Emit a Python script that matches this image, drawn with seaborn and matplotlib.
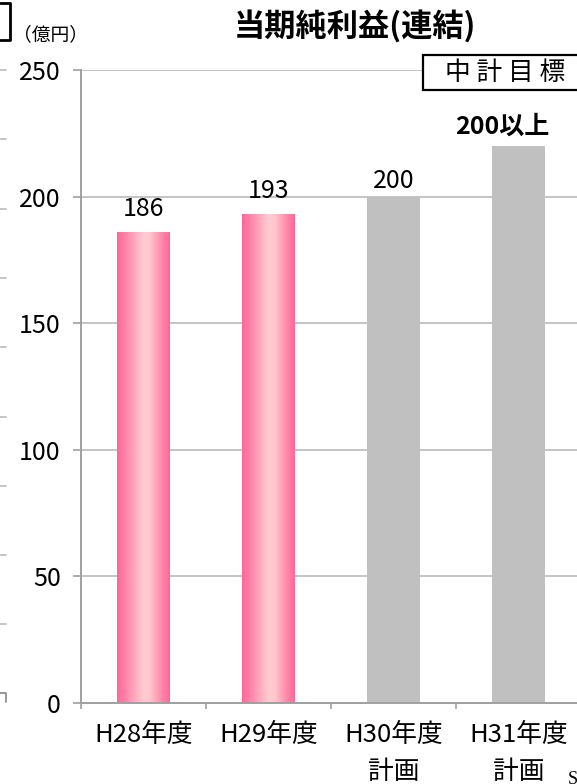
import numpy as np
import pandas as pd
import matplotlib
matplotlib.use("Agg")
import matplotlib.pyplot as plt
from matplotlib.colors import LinearSegmentedColormap
from matplotlib.patches import Rectangle
from matplotlib.lines import Line2D
import seaborn as sns

# ---- data -------------------------------------------------------------
categories = ["H28年度", "H29年度", "H30年度\n計画", "H31年度\n計画"]
net_income = [186, 193, 200, 220]
value_labels = ["186", "193", "200", "200以上"]
is_plan = [False, False, True, True]
y_ticks = [0, 50, 100, 150, 200, 250]

# ---- style ------------------------------------------------------------
sns.set_theme(style="white")
plt.rcParams["font.family"] = ["Noto Sans CJK JP", "DejaVu Sans"]

W, H = 577, 784
fig = plt.figure(figsize=(W / 100, H / 100), dpi=100)
fig.patch.set_facecolor("white")

def fx(px):
    return px / W

def fy(px):
    return 1 - px / H

ax = fig.add_axes([fx(81), 81 / H, 500 / W, 633 / H])
ax.set_facecolor("white")

actual_color = "#FF6699"
plan_color = "#C0C0C0"

df = pd.DataFrame({"category": categories, "value": net_income})
palette = {c: (plan_color if p else actual_color) for c, p in zip(categories, is_plan)}
sns.barplot(data=df, x="category", y="value", hue="category", palette=palette,
            legend=False, width=0.42, saturation=1, edgecolor="none",
            linewidth=0, ax=ax, zorder=2)

# horizontal pink gradient on the actual-result bars
pink = LinearSegmentedColormap.from_list(
    "pinkbar",
    [(0.0, "#FF6699"), (0.18, "#FF88AA"), (0.5, "#FFCCD2"),
     (0.62, "#FFC6CC"), (0.85, "#FF88AA"), (1.0, "#FF6699")])
grad = np.linspace(0, 1, 256).reshape(1, -1)
for patch, plan in zip(ax.patches, is_plan):
    if plan:
        continue
    x0, w, h = patch.get_x(), patch.get_width(), patch.get_height()
    im = ax.imshow(grad, extent=[x0, x0 + w, 0, h], aspect="auto",
                   cmap=pink, zorder=2.5, interpolation="bilinear")
    im.set_clip_path(patch)

ax.set_xlim(-0.5, 3.5)
ax.set_ylim(0, 250)
ax.set_yticks(y_ticks)
ax.set_xlabel("")
ax.set_ylabel("")

# grid and spines
ax.yaxis.grid(True, color="#C4C4C4", linewidth=1.4)
ax.xaxis.grid(False)
ax.set_axisbelow(True)
for side in ["top", "right"]:
    ax.spines[side].set_visible(False)
for side in ["left", "bottom"]:
    ax.spines[side].set_color("#A0A0A0")
    ax.spines[side].set_linewidth(1.4)
    ax.spines[side].set_zorder(3)

ax.tick_params(axis="y", which="major", length=5.5, width=1.2, color="#A0A0A0",
               direction="out", pad=9, labelsize=18, labelcolor="black", left=True)
ax.set_xticks(range(len(categories)))
ax.set_xticklabels(categories, fontsize=18.5, linespacing=1.55, va="top")
ax.tick_params(axis="x", which="major", length=0, pad=14, labelcolor="black")
ax.set_xticks(np.arange(-0.5, len(categories), 1.0), minor=True)
ax.tick_params(axis="x", which="minor", length=4.5, width=1.2, color="#A0A0A0",
               direction="out", bottom=True)

# value labels
label_offsets = [11.5, 11.5, 6, 8.6]
label_weights = ["normal", "normal", "normal", "bold"]
for i, (v, lab, off, wt) in enumerate(zip(net_income, value_labels, label_offsets, label_weights)):
    ax.annotate(lab, (i, v), xytext=(-12 if wt == "bold" else 0, off),
                textcoords="offset points", ha="center", va="baseline",
                fontsize=18, fontweight=wt, color="black", zorder=5)

# titles and unit
fig.text(fx(355), fy(26), "当期純利益(連結)", ha="center", va="center",
         fontsize=22.5, fontweight="bold", color="black")
fig.text(fx(51), fy(35), "（億円）", ha="center", va="center",
         fontsize=13.5, color="black")

# mid-term target box
fig.add_artist(Rectangle((fx(423), fy(90)), 200 / W, 35 / H,
                         transform=fig.transFigure, facecolor="white",
                         edgecolor="black", linewidth=1.6, zorder=6))
fig.text(fx(505), fy(73), "中 計 目 標", ha="center", va="center",
         fontsize=18.5, color="black", zorder=7)

# neighbouring panel edge
for yy in [70, 139, 209, 278, 347, 417, 486, 555, 624]:
    fig.add_artist(Line2D([0, fx(6)], [fy(yy), fy(yy)], color="#C0C0C0",
                          linewidth=1.3, transform=fig.transFigure))
fig.add_artist(Line2D([0, fx(6), fx(6)], [fy(693), fy(693), fy(702)],
                      color="#909090", linewidth=1.3, transform=fig.transFigure))
fig.add_artist(Line2D([0, fx(10), fx(10), 0], [fy(3), fy(3), fy(40), fy(40)],
                      color="black", linewidth=2, transform=fig.transFigure))
fig.text(fx(568), fy(779), "S", ha="left", va="center", fontsize=13,
         family="Liberation Serif", color="black")

fig.savefig("out.png", dpi=100, facecolor="white")
